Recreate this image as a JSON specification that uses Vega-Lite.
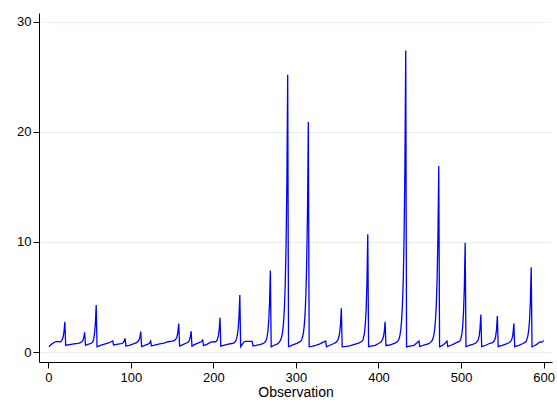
{
"$schema": "https://vega.github.io/schema/vega-lite/v6.json",
"width": 513, "height": 349,
"autosize": {"type": "none"},
"padding": {"left": 39, "top": 13, "right": 5, "bottom": 38},
"background": "white",
"config": {"view": {"stroke": null}, "font": "Liberation Sans"},
"data": {"values": [
{"obs":1,"value":0.48},{"obs":2,"value":0.6},{"obs":5,"value":0.78},{"obs":8,"value":0.92},{"obs":10,"value":0.98},{"obs":12,"value":0.95},{"obs":15,"value":0.94},{"obs":16,"value":1.05},{"obs":17,"value":1.17},{"obs":18,"value":1.39},{"obs":19,"value":1.85},{"obs":20,"value":2.75},{"obs":21,"value":0.62},
{"obs":26,"value":0.68},{"obs":31,"value":0.74},{"obs":36,"value":0.8},{"obs":39,"value":0.86},{"obs":41,"value":0.97},{"obs":42,"value":1.09},{"obs":43,"value":1.33},{"obs":44,"value":1.8},{"obs":45,"value":0.62},
{"obs":48,"value":0.7},{"obs":52,"value":0.8},{"obs":53,"value":0.86},{"obs":54,"value":0.95},{"obs":55,"value":1.2},{"obs":56,"value":1.71},{"obs":57,"value":2.56},{"obs":58,"value":4.27},{"obs":59,"value":0.48},
{"obs":63,"value":0.6},{"obs":68,"value":0.72},{"obs":73,"value":0.84},{"obs":76,"value":0.94},{"obs":78,"value":1.02},{"obs":79,"value":0.65},
{"obs":83,"value":0.7},{"obs":88,"value":0.76},{"obs":90,"value":0.8},{"obs":91,"value":0.9},{"obs":92,"value":1.01},{"obs":93,"value":1.24},{"obs":94,"value":0.55},
{"obs":98,"value":0.62},{"obs":103,"value":0.74},{"obs":107,"value":0.86},{"obs":109,"value":1.0},{"obs":110,"value":1.13},{"obs":111,"value":1.38},{"obs":112,"value":1.85},{"obs":113,"value":0.5},
{"obs":116,"value":0.58},{"obs":120,"value":0.7},{"obs":122,"value":0.78},{"obs":123,"value":0.85},{"obs":124,"value":1.0},{"obs":125,"value":0.55},
{"obs":130,"value":0.66},{"obs":135,"value":0.74},{"obs":140,"value":0.82},{"obs":145,"value":0.94},{"obs":150,"value":1.0},{"obs":153,"value":1.06},{"obs":154,"value":1.16},{"obs":155,"value":1.25},{"obs":156,"value":1.45},{"obs":157,"value":1.83},{"obs":158,"value":2.6},{"obs":159,"value":0.55},
{"obs":163,"value":0.68},{"obs":168,"value":0.85},{"obs":170,"value":0.94},{"obs":171,"value":1.1},{"obs":172,"value":1.4},{"obs":173,"value":1.9},{"obs":174,"value":0.55},
{"obs":177,"value":0.68},{"obs":182,"value":0.84},{"obs":185,"value":0.94},{"obs":186,"value":1.0},{"obs":187,"value":1.09},{"obs":188,"value":0.58},
{"obs":192,"value":0.7},{"obs":197,"value":0.9},{"obs":202,"value":0.94},{"obs":204,"value":1.0},{"obs":205,"value":1.21},{"obs":206,"value":1.49},{"obs":207,"value":2.03},{"obs":208,"value":3.12},{"obs":209,"value":0.55},
{"obs":212,"value":0.62},{"obs":217,"value":0.7},{"obs":222,"value":0.78},{"obs":225,"value":0.84},{"obs":227,"value":1.02},{"obs":228,"value":1.2},{"obs":229,"value":1.53},{"obs":230,"value":2.12},{"obs":231,"value":3.21},{"obs":232,"value":5.18},{"obs":233,"value":0.48},
{"obs":235,"value":0.7},{"obs":237,"value":0.92},{"obs":239,"value":0.97},{"obs":243,"value":0.98},{"obs":247,"value":0.97},{"obs":248,"value":0.55},
{"obs":252,"value":0.62},{"obs":257,"value":0.7},{"obs":260,"value":0.76},{"obs":262,"value":0.86},{"obs":263,"value":0.98},{"obs":264,"value":1.1},{"obs":265,"value":1.4},{"obs":266,"value":1.9},{"obs":267,"value":2.8},{"obs":268,"value":4.43},{"obs":269,"value":7.4},{"obs":270,"value":0.48},
{"obs":273,"value":0.6},{"obs":277,"value":0.72},{"obs":279,"value":0.82},{"obs":281,"value":1.04},{"obs":282,"value":1.2},{"obs":283,"value":1.48},{"obs":284,"value":1.93},{"obs":285,"value":2.7},{"obs":286,"value":3.96},{"obs":287,"value":6.07},{"obs":288,"value":9.58},{"obs":289,"value":15.44},{"obs":290,"value":25.2},{"obs":291,"value":0.5},
{"obs":293,"value":0.55},{"obs":297,"value":0.68},{"obs":301,"value":0.8},{"obs":305,"value":0.95},{"obs":306,"value":1.0},{"obs":307,"value":1.14},{"obs":308,"value":1.36},{"obs":309,"value":1.74},{"obs":310,"value":2.36},{"obs":311,"value":3.4},{"obs":312,"value":5.14},{"obs":313,"value":8.04},{"obs":314,"value":12.86},{"obs":315,"value":20.9},{"obs":316,"value":0.48},
{"obs":319,"value":0.52},{"obs":324,"value":0.61},{"obs":329,"value":0.74},{"obs":332,"value":0.86},{"obs":335,"value":0.97},{"obs":336,"value":1.0},{"obs":337,"value":0.48},
{"obs":341,"value":0.62},{"obs":346,"value":0.78},{"obs":348,"value":0.86},{"obs":350,"value":1.0},{"obs":351,"value":1.14},{"obs":352,"value":1.37},{"obs":353,"value":1.79},{"obs":354,"value":2.57},{"obs":355,"value":3.97},{"obs":356,"value":0.48},
{"obs":361,"value":0.52},{"obs":366,"value":0.58},{"obs":371,"value":0.7},{"obs":376,"value":0.82},{"obs":380,"value":0.98},{"obs":381,"value":1.07},{"obs":382,"value":1.35},{"obs":383,"value":1.75},{"obs":384,"value":2.49},{"obs":385,"value":3.83},{"obs":386,"value":6.27},{"obs":387,"value":10.7},{"obs":388,"value":0.5},
{"obs":391,"value":0.55},{"obs":396,"value":0.62},{"obs":400,"value":0.78},{"obs":403,"value":0.92},{"obs":404,"value":1.05},{"obs":405,"value":1.17},{"obs":406,"value":1.39},{"obs":407,"value":1.85},{"obs":408,"value":2.75},{"obs":409,"value":0.6},
{"obs":412,"value":0.62},{"obs":416,"value":0.7},{"obs":420,"value":0.82},{"obs":423,"value":0.96},{"obs":424,"value":1.07},{"obs":425,"value":1.24},{"obs":426,"value":1.54},{"obs":427,"value":2.04},{"obs":428,"value":2.87},{"obs":429,"value":4.25},{"obs":430,"value":6.54},{"obs":431,"value":10.38},{"obs":432,"value":16.76},{"obs":433,"value":27.4},{"obs":434,"value":0.48},
{"obs":438,"value":0.55},{"obs":443,"value":0.62},{"obs":446,"value":0.8},{"obs":449,"value":1.0},{"obs":450,"value":0.5},
{"obs":454,"value":0.62},{"obs":458,"value":0.7},{"obs":461,"value":0.76},{"obs":464,"value":0.95},{"obs":465,"value":1.06},{"obs":466,"value":1.23},{"obs":467,"value":1.53},{"obs":468,"value":2.03},{"obs":469,"value":2.87},{"obs":470,"value":4.26},{"obs":471,"value":6.58},{"obs":472,"value":10.44},{"obs":473,"value":16.9},{"obs":474,"value":0.48},
{"obs":477,"value":0.58},{"obs":480,"value":0.75},{"obs":482,"value":0.92},{"obs":483,"value":1.0},{"obs":484,"value":0.5},
{"obs":487,"value":0.6},{"obs":491,"value":0.72},{"obs":495,"value":0.88},{"obs":498,"value":0.97},{"obs":499,"value":1.07},{"obs":500,"value":1.26},{"obs":501,"value":1.65},{"obs":502,"value":2.34},{"obs":503,"value":3.6},{"obs":504,"value":5.85},{"obs":505,"value":9.94},{"obs":506,"value":0.5},
{"obs":510,"value":0.6},{"obs":515,"value":0.72},{"obs":518,"value":0.82},{"obs":520,"value":1.01},{"obs":521,"value":1.17},{"obs":522,"value":1.49},{"obs":523,"value":2.14},{"obs":524,"value":3.42},{"obs":525,"value":0.5},
{"obs":530,"value":0.62},{"obs":535,"value":0.8},{"obs":538,"value":0.86},{"obs":540,"value":1.0},{"obs":541,"value":1.15},{"obs":542,"value":1.46},{"obs":543,"value":2.06},{"obs":544,"value":3.27},{"obs":545,"value":0.5},
{"obs":550,"value":0.62},{"obs":555,"value":0.74},{"obs":558,"value":0.85},{"obs":560,"value":0.96},{"obs":561,"value":1.07},{"obs":562,"value":1.29},{"obs":563,"value":1.73},{"obs":564,"value":2.6},{"obs":565,"value":0.5},
{"obs":570,"value":0.62},{"obs":575,"value":0.78},{"obs":578,"value":0.9},{"obs":579,"value":1.0},{"obs":580,"value":1.2},{"obs":581,"value":1.5},{"obs":582,"value":2.0},{"obs":583,"value":2.9},{"obs":584,"value":4.6},{"obs":585,"value":7.7},{"obs":586,"value":0.48},
{"obs":588,"value":0.55},{"obs":590,"value":0.62},{"obs":592,"value":0.72},{"obs":594,"value":0.85},{"obs":596,"value":0.94},{"obs":597,"value":0.88},{"obs":598,"value":0.9},{"obs":600,"value":1.06}
]},
"mark": {"type": "line", "color": "#0000ff", "strokeWidth": 1.3, "clip": true},
"encoding": {
"x": {"field": "obs", "type": "quantitative",
 "scale": {"domain": [-11.3, 610.2], "nice": false, "zero": false},
 "axis": {"values": [0,100,200,300,400,500,600], "title": "Observation", "grid": false,
  "domainColor": "#000000", "domainWidth": 1, "tickColor": "#000000", "tickSize": 6,
  "labelFontSize": 13, "labelColor": "#000000", "labelPadding": 3, "labelFont": "Liberation Sans",
  "titleFontSize": 14, "titleFontWeight": "normal", "titleColor": "#000000", "titlePadding": 1, "titleFont": "Liberation Sans"}},
"y": {"field": "value", "type": "quantitative",
 "scale": {"domain": [-0.9, 30.8], "nice": false, "zero": false},
 "axis": {"values": [0,10,20,30], "title": null, "grid": true, "gridColor": "#e6eff1", "gridWidth": 1,
  "domainColor": "#000000", "domainWidth": 1, "tickColor": "#000000", "tickSize": 6,
  "labelFontSize": 13, "labelColor": "#000000", "labelPadding": 2, "labelFont": "Liberation Sans"}}
}
}
